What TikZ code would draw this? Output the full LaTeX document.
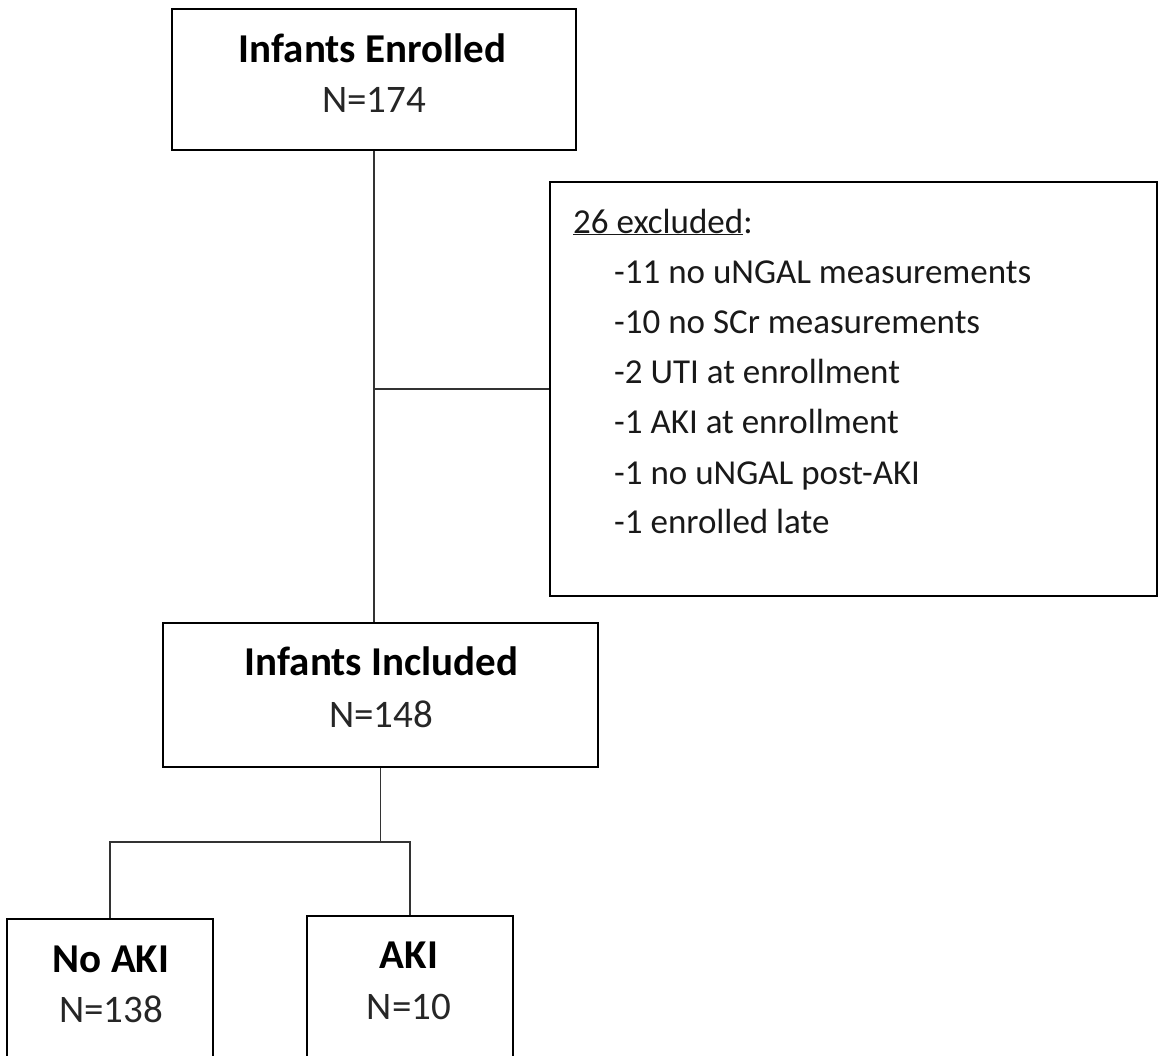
\documentclass[tikz,border=0pt]{standalone}
\usepackage{fontspec}
\setmainfont{Carlito}
\begin{document}
\begin{tikzpicture}[x=1pt,y=-1pt,
  box/.style={draw=black,line width=2pt,rectangle,inner sep=0pt},
  conn/.style={draw=black!80,line width=1.8pt},
  title/.style={anchor=base,inner sep=0pt,font=\fontsize{41}{49}\selectfont\bfseries},
  num/.style={anchor=base,inner sep=0pt,font=\fontsize{39}{47}\selectfont,text=black!85},
  item/.style={anchor=base west,inner sep=0pt,font=\fontsize{35}{42}\selectfont,text=black!90}]
\useasboundingbox (0,0) rectangle (1158,1055);
\clip (0,0) rectangle (1158,1055);
% boxes
\node[box,minimum width=404pt,minimum height=141pt] (enr) at (374,79.5) {};
\node[box,minimum width=607pt,minimum height=414pt] (exc) at (853.5,389) {};
\node[box,minimum width=435pt,minimum height=144pt] (inc) at (380.5,695) {};
\node[box,minimum width=206pt,minimum height=181pt] (noaki) at (110,1009.5) {};
\node[box,minimum width=206pt,minimum height=184pt] (aki) at (410,1008) {};
% texts
\node[title] (t1) at (372.5,62) {Infants Enrolled};
\node[num] (n1) at (374,112) {N=174};
\node[title] (t2) at (381.5,675) {Infants Included};
\node[num] (n2) at (381,727) {N=148};
\node[title] (t3) at (111,972) {No AKI};
\node[num] (n3) at (111,1022) {N=138};
\node[title] (t4) at (409,968) {AKI};
\node[num] (n4) at (409,1019) {N=10};
\node[item] (e0) at (573,233) {\underline{26 excluded}:};
\node[item] (e1) at (614,283) {-11 no uNGAL measurements};
\node[item] (e2) at (614,333) {-10 no SCr measurements};
\node[item] (e3) at (614,383) {-2 UTI at enrollment};
\node[item] (e4) at (614,433) {-1 AKI at enrollment};
\node[item] (e5) at (614,484) {-1 no uNGAL post-AKI};
\node[item] (e6) at (614,533) {-1 enrolled late};
% connectors
\coordinate (split) at (380.5,842);
\draw[conn] (enr.south) -- (enr.south |- inc.north);
\draw[conn] (enr.south |- exc.west) -- (exc.west);
\draw[conn] (inc.south) -- (split);
\draw[conn] (noaki.north) |- (split) -| (aki.north);
\end{tikzpicture}
\end{document}
